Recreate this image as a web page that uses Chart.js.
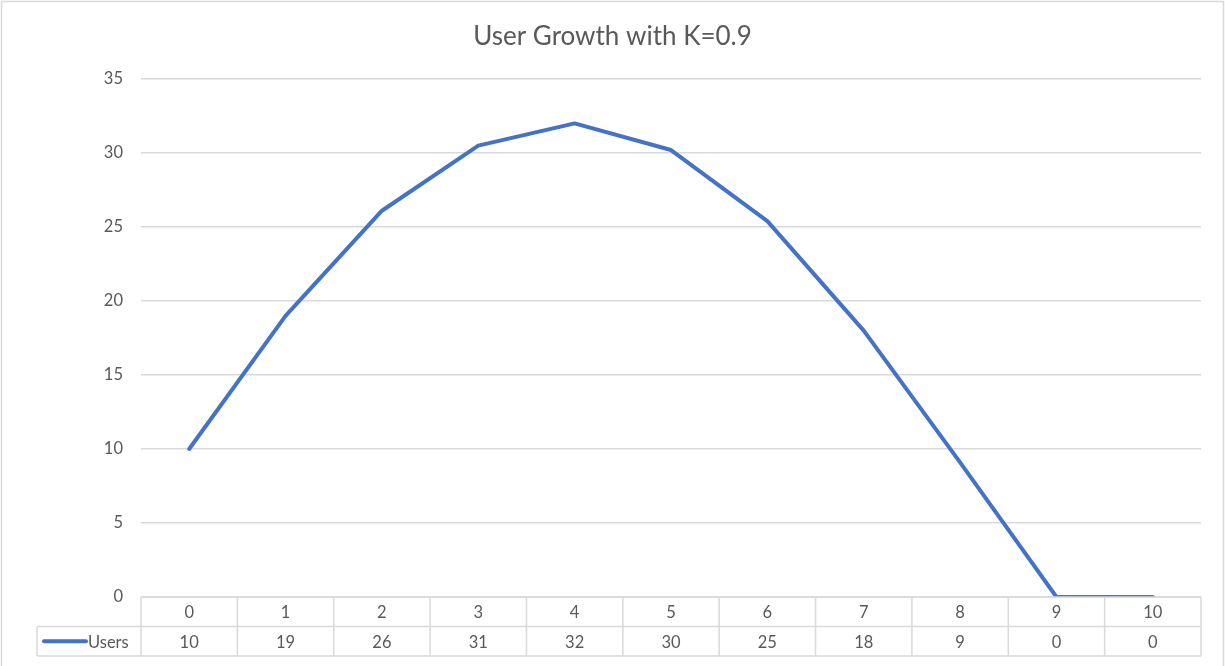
<!DOCTYPE html>
<html>
<head>
<meta charset="utf-8">
<script src="https://cdn.jsdelivr.net/npm/chart.js@4"></script>
<style>
  html, body { margin: 0; padding: 0; background: #fff; }
  #wrap { width: 1225px; height: 666px; position: relative; }
</style>
</head>
<body>
<div id="wrap"><canvas id="chart"></canvas></div>
<script>
const TITLE = 'User Growth with K=0.9';
const periods = ['0', '1', '2', '3', '4', '5', '6', '7', '8', '9', '10'];
const seriesName = 'Users';
// line values; the table below shows them rounded
const users = [10, 19, 26.1, 30.5, 32, 30.2, 25.4, 18, 9.1, 0, 0];
const yTicks = [0, 5, 10, 15, 20, 25, 30, 35];

const BLUE = '#4472C4';
const GRID = '#D9D9D9';
const TEXT = '#595959';
const FONT = 'Lato, "Open Sans", sans-serif';

// title, outer frame and the data table under the plot
const tablePlugin = {
  id: 'dataTable',
  afterDraw(chart) {
    const ctx = chart.ctx;
    const area = chart.chartArea;
    const x = chart.scales.x;
    const step = (area.right - area.left) / periods.length;
    const top = area.bottom;
    const mid = top + 29.5;
    const bot = top + 59;
    const labelLeft = 37;

    ctx.save();
    // outer frame
    ctx.strokeStyle = GRID;
    ctx.lineWidth = 1.5;
    ctx.strokeRect(1.5, 1.5, chart.width - 3, chart.height + 10);

    // title
    ctx.fillStyle = TEXT;
    ctx.font = '26px ' + FONT;
    ctx.textAlign = 'center';
    ctx.textBaseline = 'middle';
    ctx.fillText(TITLE, chart.width / 2, 37);

    // table grid
    ctx.strokeStyle = GRID;
    ctx.lineWidth = 1.5;
    ctx.beginPath();
    ctx.moveTo(area.left, top); ctx.lineTo(area.right, top);
    ctx.moveTo(labelLeft, mid); ctx.lineTo(area.right, mid);
    ctx.moveTo(labelLeft, bot); ctx.lineTo(area.right, bot);
    for (let i = 0; i <= periods.length; i++) {
      const gx = area.left + i * step;
      ctx.moveTo(gx, top); ctx.lineTo(gx, bot);
    }
    ctx.moveTo(labelLeft, mid); ctx.lineTo(labelLeft, bot);
    ctx.stroke();

    // table text
    ctx.fillStyle = TEXT;
    ctx.font = '16.5px ' + FONT;
    ctx.textAlign = 'center';
    periods.forEach((p, i) => {
      const cx = x.getPixelForValue(i);
      ctx.fillText(p, cx, (top + mid) / 2 + 1);
      ctx.fillText(String(Math.round(users[i])), cx, (mid + bot) / 2 + 1);
    });

    // legend key in the row header
    const ly = (mid + bot) / 2;
    ctx.strokeStyle = BLUE;
    ctx.lineWidth = 4;
    ctx.lineCap = 'round';
    ctx.beginPath();
    ctx.moveTo(44, ly); ctx.lineTo(86, ly);
    ctx.stroke();
    ctx.textAlign = 'left';
    ctx.fillText(seriesName, 88, ly + 1);
    ctx.restore();
  }
};

new Chart(document.getElementById('chart'), {
  type: 'line',
  data: {
    labels: periods,
    datasets: [{
      label: seriesName,
      data: users,
      borderColor: BLUE,
      borderWidth: 4,
      borderCapStyle: 'round',
      borderJoinStyle: 'round',
      pointRadius: 0,
      tension: 0,
      fill: false
    }]
  },
  options: {
    responsive: true,
    maintainAspectRatio: false,
    animation: false,
    layout: { padding: { top: 79, right: 24, bottom: 69, left: 0 } },
    plugins: {
      legend: { display: false },
      title: { display: false },
      tooltip: { enabled: false }
    },
    scales: {
      x: {
        type: 'category',
        offset: true,
        display: false,
        grid: { display: false }
      },
      y: {
        min: 0,
        max: 35,
        afterFit(scale) { scale.width = 141; },
        afterBuildTicks(scale) { scale.ticks = yTicks.map(v => ({ value: v })); },
        border: { display: false },
        grid: { color: GRID, lineWidth: 1.5, drawTicks: false },
        ticks: {
          padding: 18,
          color: TEXT,
          font: { family: FONT, size: 16.5 }
        }
      }
    }
  },
  plugins: [tablePlugin]
});
</script>
</body>
</html>
